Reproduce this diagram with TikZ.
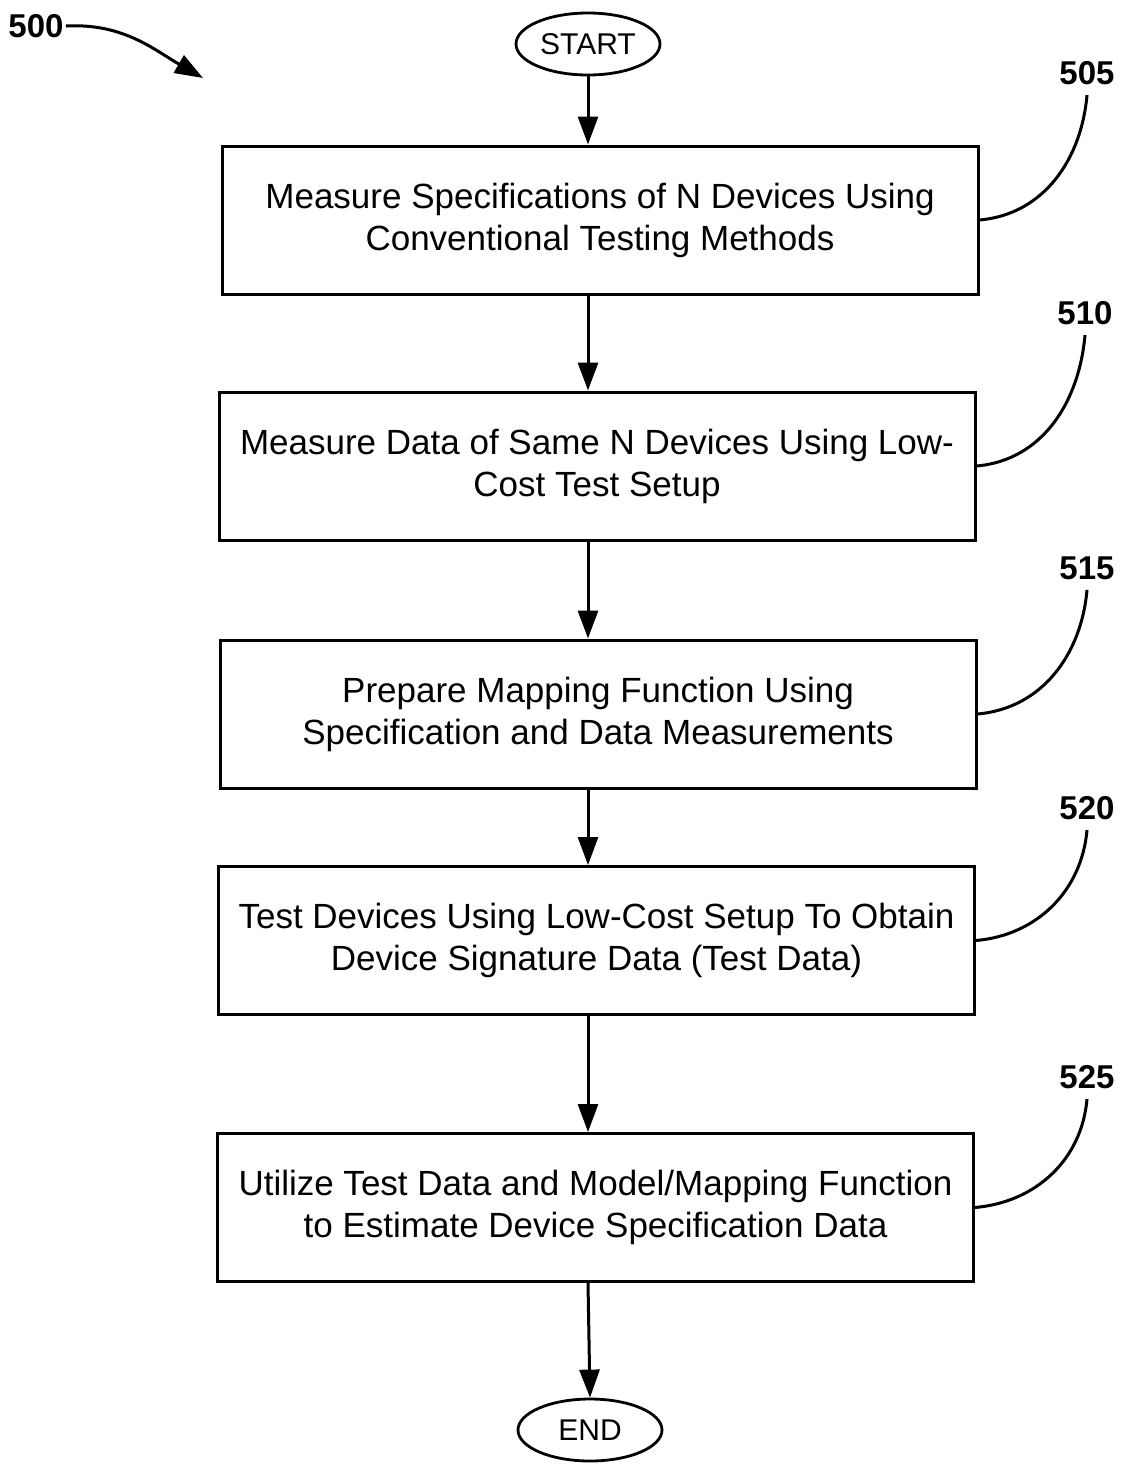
\documentclass[tikz,border=0pt]{standalone}
\usepackage{fontspec}
\setmainfont{Liberation Sans}
\usetikzlibrary{shapes.geometric,arrows.meta}
\tikzset{
  stepbox/.style={draw,line width=1.5pt,minimum width=378pt,minimum height=74pt,
    align=center,inner sep=0pt,font=\fontsize{17.5}{21}\selectfont},
  term/.style={draw,ellipse,line width=1.4pt,minimum width=72pt,minimum height=31pt,
    inner sep=0pt,font=\fontsize{15}{17}\selectfont},
  ref/.style={font=\bfseries\fontsize{16.5}{19}\selectfont,inner sep=1pt},
  flow/.style={line width=1.5pt,-{Triangle[length=14pt,width=10pt]}},
  leader/.style={line width=1.5pt}
}
\begin{document}
\begin{tikzpicture}[x=0.5pt,y=-0.5pt]
  \useasboundingbox (0,0) rectangle (1123,1468);
  \draw
    (588,44) node[term] (start){START}
    (600,220) node[stepbox] (b505){Measure Specifications of N Devices Using\\Conventional Testing Methods}
    (597,466) node[stepbox] (b510){Measure Data of Same N Devices Using Low-\\Cost Test Setup}
    (598,714) node[stepbox] (b515){Prepare Mapping Function Using\\Specification and Data Measurements}
    (596.5,940.5) node[stepbox] (b520){Test Devices Using Low-Cost Setup To Obtain\\Device Signature Data (Test Data)}
    (595.5,1207.5) node[stepbox] (b525){Utilize Test Data and Model/Mapping Function\\to Estimate Device Specification Data}
    (590,1430) node[term] (end){END};
  % reference numerals
  \draw
    (36,26) node[ref] (l500){500}
    (1087,73) node[ref] (l505){505}
    (1085,313) node[ref] (l510){510}
    (1087,568) node[ref] (l515){515}
    (1087,808) node[ref] (l520){520}
    (1087,1077) node[ref] (l525){525};
  \coordinate (c500) at (203,78);
  \begin{scope}[flow]
    \draw (start.south) -- (start.south |- b505.north);
    \draw (start.south |- b505.south) -- (start.south |- b510.north);
    \draw (start.south |- b510.south) -- (start.south |- b515.north);
    \draw (start.south |- b515.south) -- (start.south |- b520.north);
    \draw (start.south |- b520.south) -- (start.south |- b525.north);
    \draw (start.south |- b525.south) -- (end.north);
    \draw (l500.east) to[out=3,in=150] (c500);
  \end{scope}
  \begin{scope}[leader]
    \draw (b505.east) to[out=5,in=-95] ([yshift=-4pt]l505.south);
    \draw (b510.east) to[out=5,in=-95] ([yshift=-4pt]l510.south);
    \draw (b515.east) to[out=5,in=-95] ([yshift=-4pt]l515.south);
    \draw (b520.east) to[out=5,in=-95] ([yshift=-4pt]l520.south);
    \draw (b525.east) to[out=5,in=-95] ([yshift=-4pt]l525.south);
  \end{scope}
\end{tikzpicture}
\end{document}
